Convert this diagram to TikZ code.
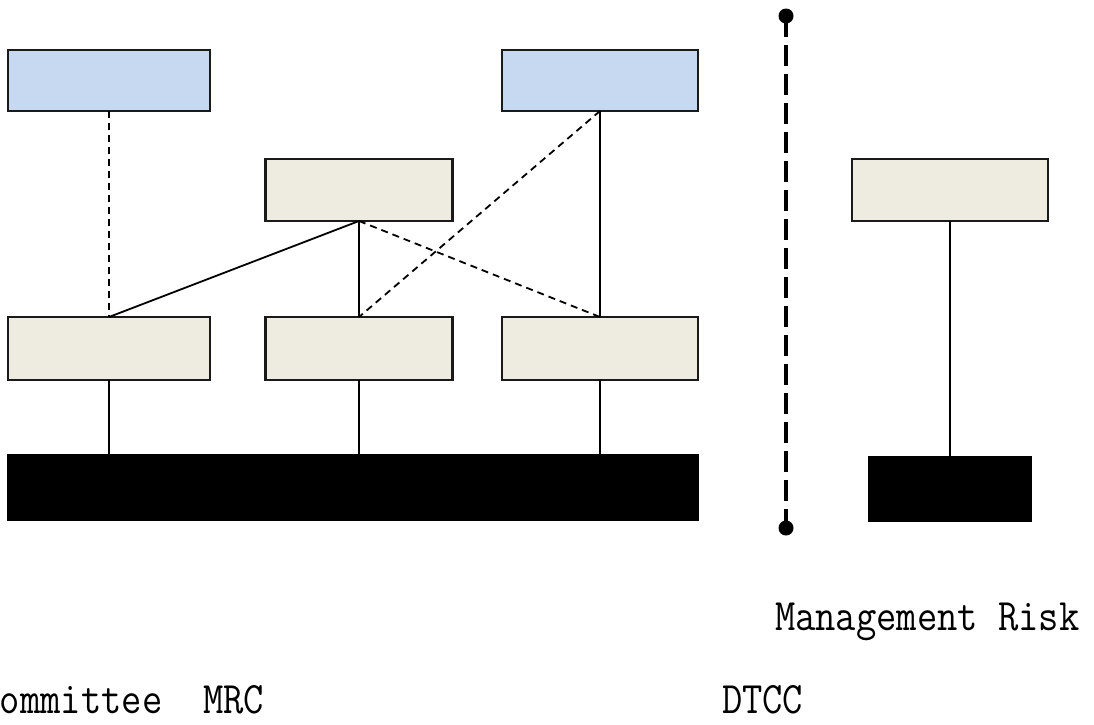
\documentclass[tikz,border=0pt]{standalone}
\usepackage{graphicx}
\definecolor{boxblue}{HTML}{C6D9F0}
\definecolor{boxtan}{HTML}{EEECE1}
\definecolor{edge}{HTML}{1A1A1A}
\tikzset{
  base/.style={draw=edge, line width=2.4pt, inner sep=0pt, outer sep=0pt, rectangle},
  bluebox/.style={base, fill=boxblue},
  tanbox/.style={base, fill=boxtan},
  blackbox/.style={base, fill=black, draw=black},
  link/.style={line width=1.8pt, black},
  dlink/.style={line width=1.8pt, black, dash pattern=on 7pt off 5pt},
  divider/.style={line width=3.2pt, black, dash pattern=on 21pt off 8pt},
  lbl/.style={inner sep=0pt, outer sep=0pt, anchor=base west, font=\ttfamily\fontsize{45}{45}\selectfont},
}
\begin{document}
\begin{tikzpicture}[x=1pt, y=-1pt]
\useasboundingbox (0,0) rectangle (1094,724);
% boxes
\node[bluebox, minimum width=202pt, minimum height=61pt] (A) at (109,80.5) {};
\node[bluebox, minimum width=196pt, minimum height=61pt] (B) at (600,80.5) {};
\node[tanbox, minimum width=187pt, minimum height=62pt] (C) at (359,190) {};
\node[tanbox, minimum width=202pt, minimum height=63pt] (D) at (109,348.5) {};
\node[tanbox, minimum width=187pt, minimum height=63pt] (E) at (359,348.5) {};
\node[tanbox, minimum width=196pt, minimum height=63pt] (F) at (600,348.5) {};
\node[blackbox, minimum width=690pt, minimum height=65pt] (bar) at (353,487.5) {};
\node[tanbox, minimum width=196pt, minimum height=62pt] (G) at (950,190) {};
\node[blackbox, minimum width=162pt, minimum height=64pt] (H) at (950,489) {};
% connectors
\draw[dlink] (A.south) -- (D.north);
\draw[link] (C.south) -- (D.north);
\draw[link] (C.south) -- (E.north);
\draw[dlink] (C.south) -- (F.north);
\draw[link] (B.south) -- (F.north);
\draw[dlink] (B.south) -- (E.north);
\draw[link] (D.south) -- (D.south |- bar.north);
\draw[link] (E.south) -- (E.south |- bar.north);
\draw[link] (F.south) -- (F.south |- bar.north);
\draw[link] (G.south) -- (H.north);
% divider
\coordinate (topdot) at (786,16);
\coordinate (botdot) at (786,528);
\draw[divider] (topdot) -- (botdot);
\fill[black] (topdot) circle (7.5pt);
\fill[black] (botdot) circle (7.5pt);
% labels
\node[lbl] (mr) at (775,630) {\scalebox{0.876}[1]{Management Risk}};
\node[lbl] (mrc) at (0,713) {\scalebox{0.876}[1]{ommittee\ \ MRC}};
\node[lbl] (dtcc) at (722,713) {\scalebox{0.876}[1]{DTCC}};
\end{tikzpicture}
\end{document}
